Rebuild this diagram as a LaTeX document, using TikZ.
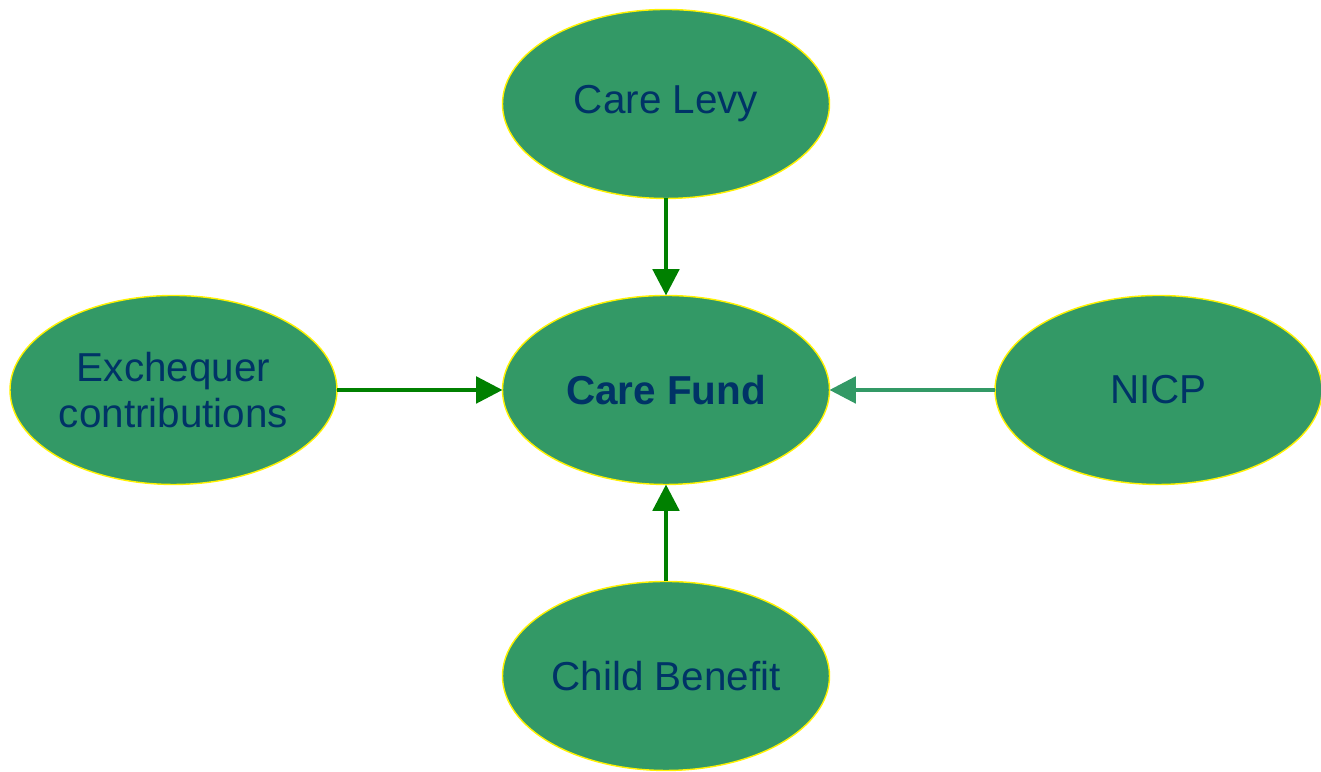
\documentclass[tikz,border=0pt]{standalone}
\usepackage{fontspec}
\setmainfont{Liberation Sans}
\usepackage{tikz}
\usetikzlibrary{arrows.meta,positioning,shapes.geometric}
\definecolor{fundgreen}{HTML}{339966}
\definecolor{arrowgreen}{HTML}{008000}
\definecolor{navy}{HTML}{003366}

\begin{document}
\begin{tikzpicture}[font=\fontsize{11.5}{13}\selectfont,>={Triangle[length=7.5pt,width=7.5pt]},node distance=9.7mm and 16.55mm]
  \tikzset{source/.style={ellipse,draw=yellow,line width=0.4pt,fill=fundgreen,text=navy,minimum width=32.7mm,minimum height=18.9mm,inner xsep=0pt,outer sep=0pt,align=center}}
  \tikzset{flow/.style={->,line width=1.15pt,draw=arrowgreen}}
  \useasboundingbox (0,0) rectangle (13.21,7.72);
  \node[source,font=\fontsize{11.5}{13}\selectfont\bfseries] (fund) at (6.66,3.82) {Care Fund};
  \node[source,above=of fund] (levy) {Care Levy};
  \node[source,below=of fund] (child) {Child Benefit};
  \node[source,left=of fund] (exchequer) {Exchequer\\contributions};
  \node[source,right=of fund] (nicp) {NICP};
  \draw[flow] (levy) -- (fund);
  \draw[flow] (child) -- (fund);
  \draw[flow] (exchequer) -- (fund);
  \draw[flow,draw=fundgreen,fill=fundgreen] (nicp) -- (fund);
\end{tikzpicture}
\end{document}
